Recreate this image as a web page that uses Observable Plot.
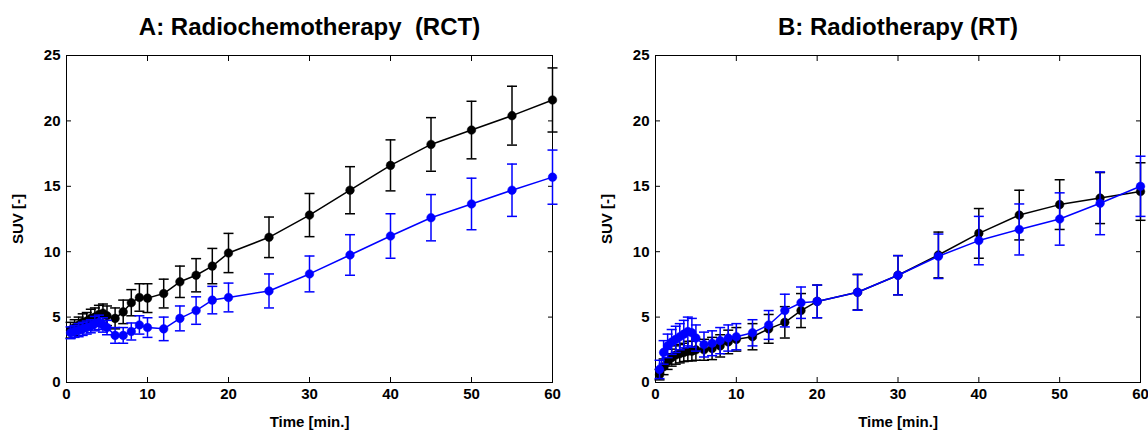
<!DOCTYPE html>
<html>
<head>
<meta charset="utf-8">
<script src="https://cdn.jsdelivr.net/npm/d3@7"></script>
<script src="https://cdn.jsdelivr.net/npm/@observablehq/plot@0.6"></script>
<style>
  html, body { margin: 0; padding: 0; background: #fff; }
  body { width: 1148px; height: 431px; position: relative; overflow: hidden; }
  .panel { position: absolute; top: 0; }
</style>
</head>
<body>
<div id="panelA" class="panel" style="left:0px"></div>
<div id="panelB" class="panel" style="left:574px"></div>
<script>
// ---- Data ----
const times = [0.5, 1, 1.5, 2, 2.5, 3, 3.5, 4, 4.5, 5, 6, 7, 8, 9, 10, 12, 14, 16, 18, 20, 25, 30, 35, 40, 45, 50, 55, 60];

// Panel A: Radiochemotherapy (RCT)
const rctBlackMean = [4.0, 4.2, 4.4, 4.6, 4.7, 4.9, 5.0, 5.2, 5.3, 5.1, 4.9, 5.4, 6.1, 6.5, 6.45, 6.8, 7.7, 8.2, 8.9, 9.9, 11.1, 12.8, 14.7, 16.6, 18.2, 19.3, 20.4, 21.6];
const rctBlackErr  = [0.6, 0.6, 0.6, 0.65, 0.65, 0.7, 0.7, 0.7, 0.7, 0.75, 0.8, 0.9, 1.0, 1.05, 1.1, 1.1, 1.2, 1.27, 1.35, 1.5, 1.55, 1.65, 1.8, 1.95, 2.05, 2.2, 2.25, 2.45];
const rctBlueMean  = [3.8, 3.9, 4.0, 4.1, 4.2, 4.3, 4.5, 4.6, 4.4, 4.2, 3.6, 3.6, 3.9, 4.4, 4.2, 4.1, 4.9, 5.5, 6.3, 6.5, 7.0, 8.3, 9.75, 11.2, 12.6, 13.65, 14.7, 15.7];
const rctBlueErr   = [0.45, 0.45, 0.5, 0.5, 0.5, 0.5, 0.55, 0.55, 0.55, 0.55, 0.6, 0.6, 0.65, 0.7, 0.75, 0.9, 0.95, 1.05, 1.05, 1.1, 1.3, 1.37, 1.55, 1.7, 1.77, 1.97, 2.0, 2.07];

// Panel B: Radiotherapy (RT)
const rtBlackMean = [0.6, 1.2, 1.6, 1.9, 2.1, 2.2, 2.3, 2.4, 2.4, 2.5, 2.5, 2.6, 2.8, 3.1, 3.3, 3.5, 4.1, 4.6, 5.5, 6.2, 6.9, 8.2, 9.75, 11.4, 12.8, 13.6, 14.1, 14.6];
const rtBlackErr  = [0.4, 0.6, 0.6, 0.65, 0.7, 0.7, 0.7, 0.75, 0.75, 0.8, 0.8, 0.85, 0.85, 0.9, 0.9, 1.0, 1.1, 1.2, 1.3, 1.25, 1.35, 1.5, 1.75, 1.9, 1.9, 1.9, 1.95, 2.2];
const rtBlueMean  = [1.0, 2.3, 2.8, 3.1, 3.3, 3.5, 3.7, 3.9, 3.8, 3.4, 2.9, 3.0, 3.2, 3.4, 3.5, 3.8, 4.4, 5.5, 6.1, 6.2, 6.9, 8.2, 9.65, 10.85, 11.7, 12.5, 13.7, 15.0];
const rtBlueErr   = [0.7, 0.9, 0.9, 0.95, 1.0, 1.0, 1.05, 1.1, 1.1, 1.0, 0.95, 0.95, 1.0, 1.0, 1.0, 1.0, 1.1, 1.25, 1.2, 1.25, 1.37, 1.5, 1.7, 1.85, 1.95, 2.0, 2.4, 2.3];

const xTicks = [0, 10, 20, 30, 40, 50, 60];
const yTicks = [0, 5, 10, 15, 20, 25];
const titleA = "A: Radiochemotherapy  (RCT)";
const titleB = "B: Radiotherapy (RT)";
const xLabel = "Time [min.]";
const yLabel = "SUV [-]";

// ---- Build tables ----
function series(mean, err, color) {
  return times.map((t, i) => ({t, v: mean[i], e: err[i], color}));
}
const BLACK = "#000000", BLUE = "#0000ff";

// horizontal line symbol for error-bar caps
const capSymbol = {
  draw(ctx, size) {
    const r = Math.sqrt(size / Math.PI);
    ctx.moveTo(-r, 0);
    ctx.lineTo(r, 0);
  }
};

function seriesMarks(data, color) {
  return [
    Plot.ruleX(data, {x: "t", y1: d => d.v - d.e, y2: d => d.v + d.e, stroke: color, strokeWidth: 1.5}),
    Plot.dot(data, {x: "t", y: d => d.v + d.e, symbol: capSymbol, r: 5, stroke: color, strokeWidth: 1.5, fill: "none"}),
    Plot.dot(data, {x: "t", y: d => d.v - d.e, symbol: capSymbol, r: 5, stroke: color, strokeWidth: 1.5, fill: "none"}),
    Plot.line(data, {x: "t", y: "v", stroke: color, strokeWidth: 1.5}),
    Plot.dot(data, {x: "t", y: "v", r: 4.3, fill: color, stroke: color, strokeWidth: 0.5})
  ];
}

function panel(title, black, blue, marginLeft, marginRight) {
  return Plot.plot({
    width: 574,
    height: 431,
    marginTop: 55,
    marginBottom: 49,
    marginLeft,
    marginRight,
    style: {fontFamily: "'Liberation Sans', Arial, Helvetica, sans-serif", fontSize: "15px", fontWeight: "bold", color: "#000", background: "#fff", overflow: "visible"},
    x: {domain: [0, 60]},
    y: {domain: [0, 25]},
    marks: [
      Plot.frame({stroke: "#000", strokeWidth: 1}),
      Plot.axisX({anchor: "bottom", ticks: xTicks, tickSize: -5, tickPadding: 11, label: xLabel, labelAnchor: "center", labelOffset: 44, labelArrow: "none", fontSize: 15, fontWeight: "bold"}),
      Plot.axisX({anchor: "top", ticks: xTicks, tickSize: -5, fill: "none", label: null}),
      Plot.axisY({anchor: "left", ticks: yTicks, tickSize: -5, tickPadding: 11, label: yLabel, labelAnchor: "center", labelOffset: 54, labelArrow: "none", fontSize: 15, fontWeight: "bold"}),
      Plot.axisY({anchor: "right", ticks: yTicks, tickSize: -5, fill: "none", label: null}),
      ...seriesMarks(black, BLACK),
      ...seriesMarks(blue, BLUE),
      Plot.text([title], {text: d => d, frameAnchor: "top", dy: -21, lineAnchor: "bottom", fontSize: 24, fontWeight: "bold", fill: "#000"})
    ]
  });
}

document.getElementById("panelA").append(
  panel(titleA, series(rctBlackMean, rctBlackErr, BLACK), series(rctBlueMean, rctBlueErr, BLUE), 66, 22)
);
document.getElementById("panelB").append(
  panel(titleB, series(rtBlackMean, rtBlackErr, BLACK), series(rtBlueMean, rtBlueErr, BLUE), 81, 8)
);
</script>
</body>
</html>
